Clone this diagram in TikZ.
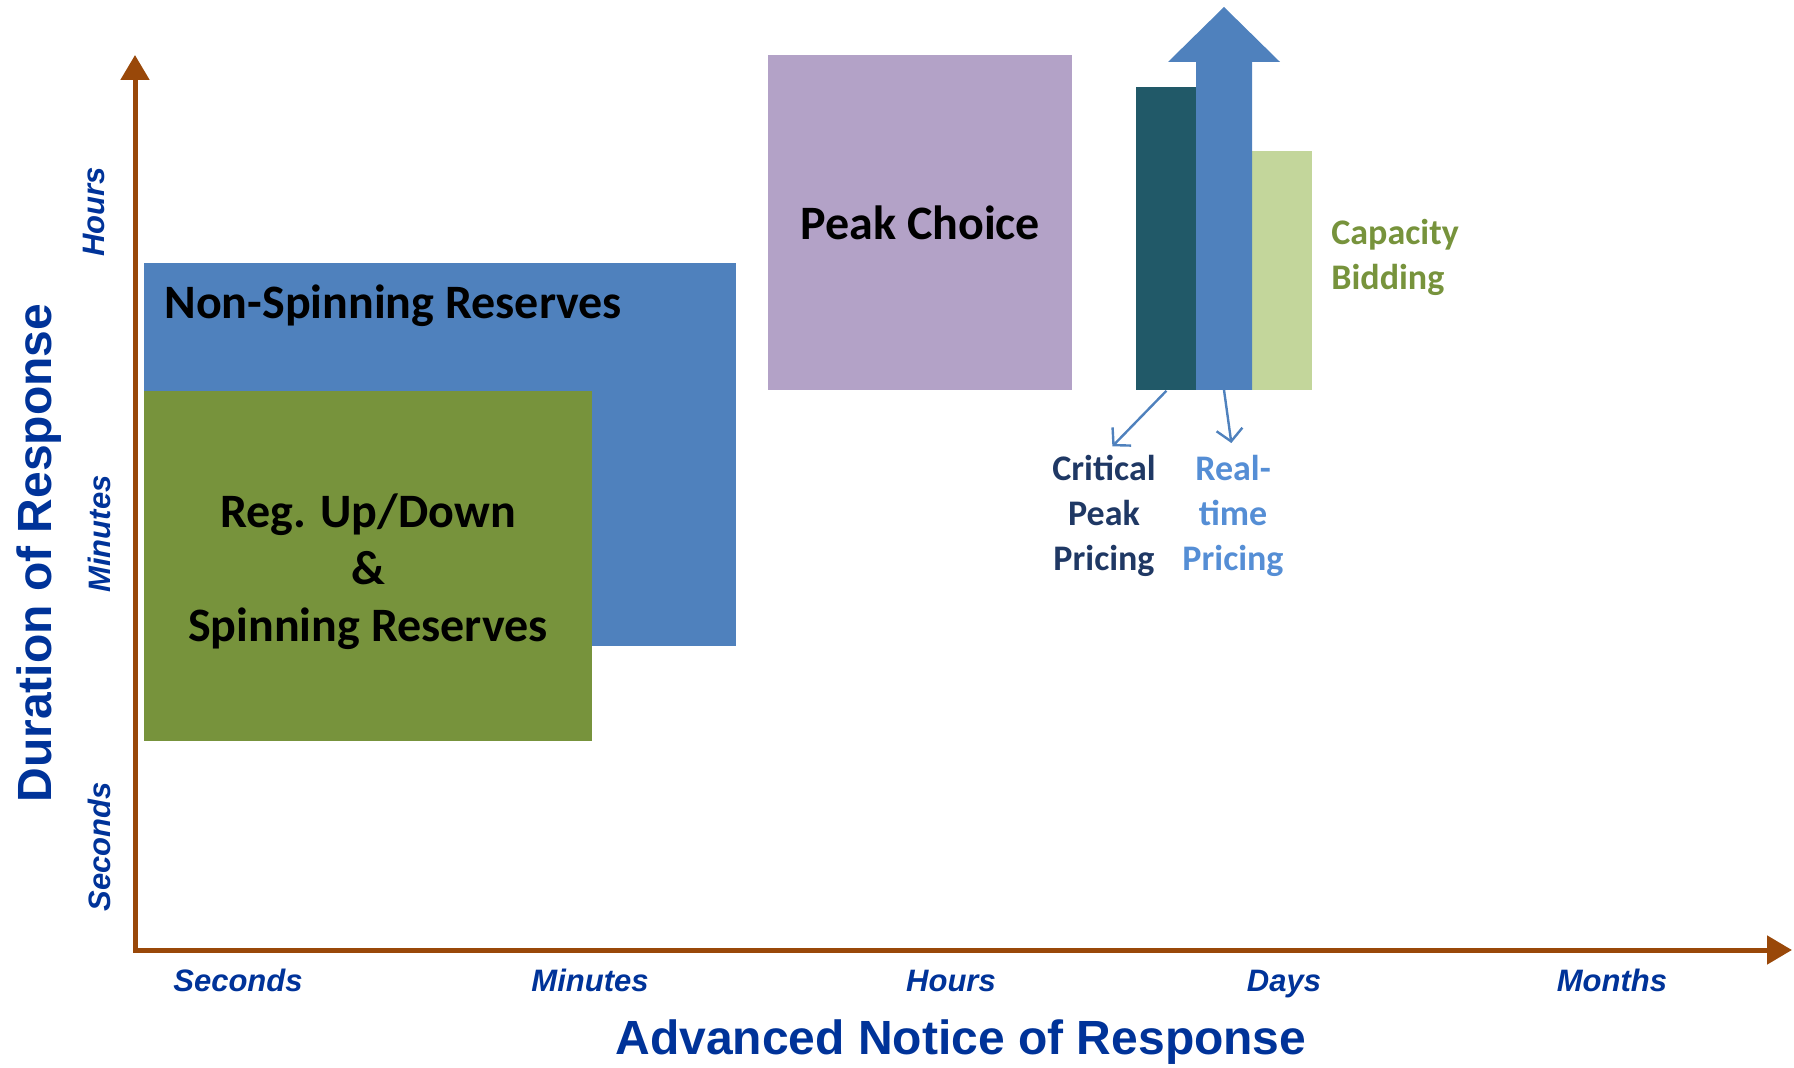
\documentclass[tikz,border=0pt]{standalone}
\usepackage{fontspec}
\setmainfont{Carlito}
\newfontfamily\axisfont{Liberation Sans}
\usetikzlibrary{arrows.meta, positioning}
\definecolor{axisbrown}{RGB}{153,72,9}
\definecolor{labelblue}{RGB}{0,51,153}
\definecolor{nsblue}{RGB}{79,129,189}
\definecolor{reggreen}{RGB}{119,147,60}
\definecolor{peakpurple}{RGB}{179,162,199}
\definecolor{cppteal}{RGB}{33,89,104}
\definecolor{cbgreen}{RGB}{195,214,155}
\definecolor{cppnavy}{RGB}{31,56,100}
\definecolor{rtpblue}{RGB}{85,142,213}
\tikzset{
	axis/.style={line width=2.5pt, draw=axisbrown, line join=miter,
		{Triangle[length=12.5pt, width=14pt]}-{Triangle[length=12.5pt, width=14pt]}},
	region/.style={inner sep=0pt, anchor=north west},
	boxtext/.style={font=\fontsize{24}{28.5}\selectfont\bfseries, align=center, inner sep=0pt},
	tag/.style={font=\fontsize{18}{22.5}\selectfont\bfseries, align=center, inner sep=0pt},
	tick/.style={font=\axisfont\fontsize{15.5}{18}\selectfont\bfseries\itshape, text=labelblue, inner sep=0pt, anchor=base},
	title/.style={font=\axisfont\fontsize{24}{28}\selectfont\bfseries, text=labelblue, inner sep=0pt, anchor=base},
	pointer/.style={draw=nsblue, line width=1.2pt, shorten >=6pt, -{Straight Barb[length=6pt, width=13pt]}}
}

\begin{document}
\begin{tikzpicture}[x=0.5pt, y=-0.5pt]
	\useasboundingbox (0,0) rectangle (1794,1068);

%	axes
	\coordinate (ytip) at (135,55);
	\coordinate (origin) at (135,950);
	\coordinate (xtip) at (1792,950);
	\draw[axis] (ytip) -- (origin) -- (xtip);

%	services
	\node[region, fill=nsblue, minimum width=296pt, minimum height=191.5pt] (nonspin) at (144,263) {};
	\node[boxtext, anchor=base west] (nonspinlabel) at (164,319) {Non-Spinning Reserves};
	\node[region, fill=reggreen, minimum width=224pt, minimum height=175pt] (reg) at (144,391) {};
	\node[boxtext] (reglabel) at (368,572) {Reg. Up/Down\\\&\\Spinning Reserves};
	\node[region, fill=peakpurple, minimum width=152pt, minimum height=167.5pt, boxtext] (peak) at (768,55)
		{Peak Choice};

%	pricing bars
	\node[region, fill=cppteal, minimum width=30pt, minimum height=151.5pt] (cpp) at (1136,87) {};
	\node[region, fill=cbgreen, minimum width=30pt, minimum height=119.5pt] (cb) at (1252,151) {};
	\fill[nsblue] (1196,390) -- (1196,62) -- (1168,62) -- (1224,7) -- (1280,62) -- (1252,62) -- (1252,390) -- cycle;
	\coordinate (rtp) at (1224,390);

	\node[tag, text=cppnavy] (cpplabel) at (1104,516) {Critical\\Peak\\Pricing};
	\node[tag, text=rtpblue, right=64.5pt of cpplabel.center, anchor=center] (rtplabel) {Real-\\time\\Pricing};
	\node[tag, text=reggreen, align=left, anchor=west] (cblabel) at (1331,257) {Capacity\\Bidding};

	\draw[pointer] (cpp.south) -- (cpplabel.north);
	\draw[pointer] (rtp) -- (rtplabel.north);

%	axis labels
	\node[tick] (xsec) at (238,991) {Seconds};
	\node[tick] (xmin) at (590,991) {Minutes};
	\node[tick] (xhrs) at (951,991) {Hours};
	\node[tick] (xday) at (1284,991) {Days};
	\node[tick] (xmon) at (1612,991) {Months};
	\node[tick, rotate=90] (yhrs) at (104,212) {Hours};
	\node[tick, rotate=90] (ymin) at (110,534) {Minutes};
	\node[tick, rotate=90] (ysec) at (110,847) {Seconds};
	\node[title] (xtitle) at (961,1054) {Advanced Notice of Response};
	\node[title, rotate=90] (ytitle) at (51,553) {Duration of Response};
\end{tikzpicture}
\end{document}
